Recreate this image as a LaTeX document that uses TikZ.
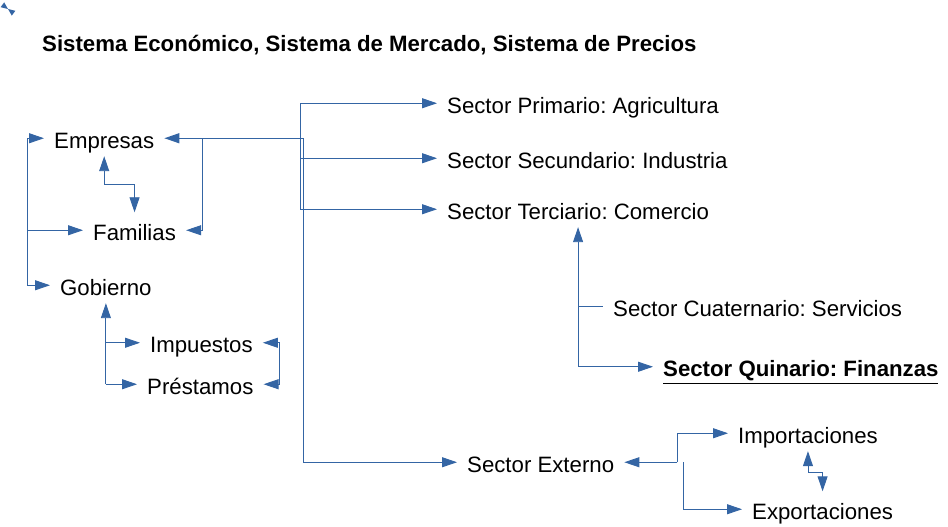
\documentclass[tikz,border=0pt]{standalone}
\usepackage{fontspec}
\setmainfont{Liberation Sans}
\usepackage{xcolor}
\usepackage{tikz}
\usetikzlibrary{arrows.meta}
\definecolor{linkblue}{HTML}{3465A4}
\frenchspacing
\tikzset{
	sector/.style={anchor=base west,inner xsep=10bp,inner ysep=6.5bp,text height=21.5bp,text depth=1bp},
	plainlink/.style={draw=linkblue,line width=0.9bp},
	link/.style={plainlink,-{Triangle[length=15bp,width=10bp]}},
	twolink/.style={plainlink,{Triangle[length=15bp,width=10bp]}-{Triangle[length=15bp,width=10bp]}},
}
\begin{document}
\begin{tikzpicture}[x=1bp,y=-1bp,font=\fontsize{22.3pt}{26pt}\selectfont]
				\useasboundingbox (0,0) rectangle (948,527);
				\node [anchor=base west,inner sep=0pt] (title) at (42,51.5) {\bfseries Sistema Económico, Sistema de Mercado, Sistema de Precios};
				\node [sector] (empresas) at (44,148.5) {Empresas};
				\node [sector] (familias) at (83,240.5) {Familias};
				\node [sector] (gobierno) at (50,295.5) {Gobierno};
				\node [sector] (impuestos) at (140,353) {Impuestos};
				\node [sector] (prestamos) at (137,394.5) {Préstamos};
				\node [sector] (primario) at (437,113.5) {Sector Primario: Agricultura};
				\node [sector] (secundario) at (437,168.5) {Sector Secundario: Industria};
				\node [sector] (terciario) at (437,219.5) {Sector Terciario: Comercio};
				\node [sector] (cuaternario) at (603,316.5) {Sector Cuaternario: Servicios};
				\node [sector] (quinario) at (653,377) {\bfseries\underline{Sector Quinario: Finanzas}};
				\node [sector] (externo) at (457,472.5) {Sector Externo};
				\node [sector] (importaciones) at (728,443.5) {Importaciones};
				\node [sector] (exportaciones) at (742,519.5) {Exportaciones};
				% bars and forks
				\coordinate (leftbar) at (27,0);
				\coordinate (famdrop) at (202,0);
				\coordinate (sectorbar) at (300,0);
				\coordinate (hub) at (303,0);
				\coordinate (tradefork) at (677,0);
				\coordinate (exportfork) at (683,0);
				% left group
				\draw [link] (leftbar |- gobierno.west) |- (empresas.west);
				\draw [link] (leftbar |- familias.west) -- (familias.west);
				\draw [link] (leftbar |- gobierno.west) -- (gobierno.west);
				\draw [link,line width=1.3bp] (hub |- empresas.east) -- (empresas.east);
				\draw [link] (famdrop |- empresas.east) |- (familias.east);
				\draw [twolink] (empresas.south) -- ++(0,28) -| (familias.north);
				\draw [link] (gobierno.south |- prestamos.west) -- (gobierno.south);
				\draw [link] (gobierno.south |- impuestos.west) -- (impuestos.west);
				\draw [link] (gobierno.south |- prestamos.west) -- (prestamos.west);
				\draw [twolink] (impuestos.east) -- ++(17,0) |- (prestamos.east);
				% sectors
				\draw [link] (sectorbar |- terciario.west) |- (primario.west);
				\draw [link] (sectorbar |- secundario.west) -- (secundario.west);
				\draw [link] (sectorbar |- terciario.west) -- (terciario.west);
				\draw [link] (hub |- empresas.east) |- (externo.west);
				\draw [link] (terciario.south |- quinario.west) -- (terciario.south);
				\draw [link] (terciario.south |- quinario.west) -- (quinario.west);
				\draw [plainlink] (terciario.south |- cuaternario.west) -- (cuaternario.west);
				% trade
				\draw [link] (tradefork |- externo.east) -- (externo.east);
				\draw [link] (tradefork |- externo.east) |- (importaciones.west);
				\draw [link] (exportfork |- externo.east) |- (exportaciones.west);
				\draw [twolink] (importaciones.south) -- ++(0,21) -| (exportaciones.north);
				% corner mark
				\fill [linkblue] (4.2,2.4) -- (0.6,7.2) -- (8,9) -- cycle;
				\fill [linkblue] (15.4,10.8) -- (11.8,15.6) -- (8,9) -- cycle;
			\end{tikzpicture}
\end{document}
